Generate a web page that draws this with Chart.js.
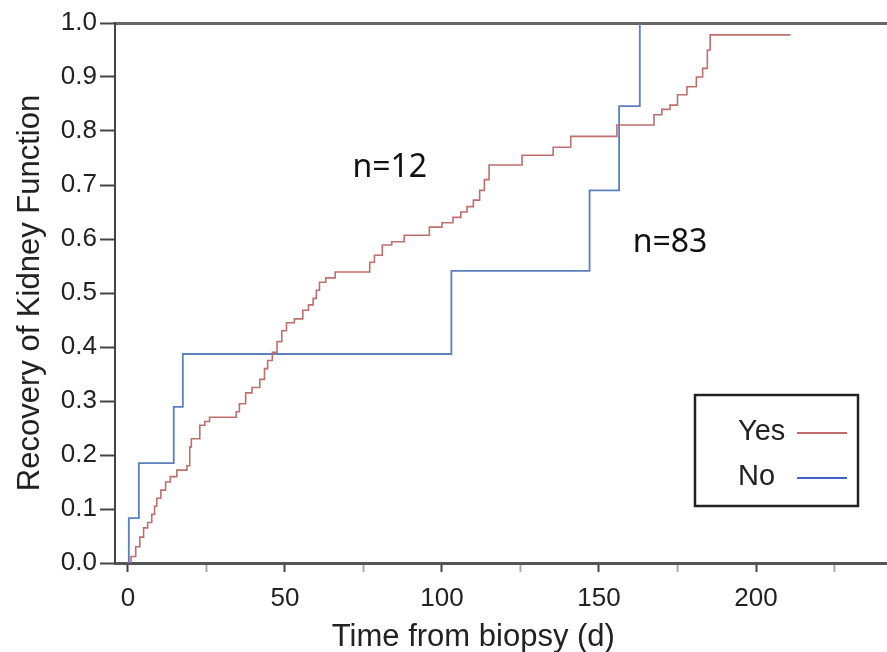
<!DOCTYPE html>
<html><head><meta charset="utf-8">
<script src="https://cdn.jsdelivr.net/npm/chart.js@4.4.0/dist/chart.umd.min.js"></script>
<style>html,body{margin:0;padding:0;background:#fff;}#wrap{width:887px;height:652px;position:relative;}</style>
</head><body><div id="wrap"><canvas id="c" width="887" height="652"></canvas></div>
<script>
// Data
const seriesLabels = ['Yes', 'No'];
const yesDays   = [0.6, 1, 2.5, 3.8, 5, 6.3, 7.6, 8.5, 9.2, 10.5, 12, 13.5, 15.6, 18.8, 19.7, 20.2, 22.9, 24.5, 26, 34.5, 35.5, 37.5, 39.5, 42, 43.5, 44.5, 46, 47.5, 49, 50.5, 53, 55.7, 57.5, 59, 60, 61, 63, 66, 77, 78.5, 81, 84, 88, 96, 100, 103.5, 106, 108, 110, 112, 113.5, 115, 125.5, 135.4, 141, 155.7, 167.5, 170, 172.6, 175, 178, 181, 183, 184.5, 185.4, 211];
const yesValues = [0, 0.012, 0.03, 0.048, 0.065, 0.075, 0.09, 0.105, 0.12, 0.135, 0.15, 0.16, 0.172, 0.18, 0.215, 0.23, 0.255, 0.262, 0.27, 0.28, 0.295, 0.315, 0.325, 0.34, 0.36, 0.375, 0.39, 0.41, 0.43, 0.445, 0.452, 0.468, 0.478, 0.49, 0.505, 0.52, 0.528, 0.539, 0.557, 0.57, 0.589, 0.595, 0.607, 0.622, 0.63, 0.64, 0.65, 0.66, 0.672, 0.69, 0.71, 0.737, 0.755, 0.77, 0.79, 0.811, 0.83, 0.84, 0.848, 0.867, 0.882, 0.9, 0.916, 0.95, 0.978, 0.978];
const noDays   = [0, 0.3, 3.5, 14.6, 17.5, 103, 147, 156.4, 163];
const noValues = [0, 0.083, 0.185, 0.289, 0.387, 0.541, 0.69, 0.846, 1.0];
const xMin = -4.1, xMax = 241.7, xStep = 25, xLabelEvery = 50;
const yMin = 0, yMax = 1, yStep = 0.1;
const xTitle = 'Time from biopsy (d)';
const yTitle = 'Recovery of Kidney Function';
const notes = [
  { text: 'n=12', x: 83.4, y: 0.731 },
  { text: 'n=83', x: 172.6, y: 0.593 }
];
const colors = ['#bf6f6e', '#5b80bf'];
const legendColors = ['#c06a6a', '#3f63c6'];

const toPts = (xs, ys) => xs.map((x, i) => ({ x: x, y: ys[i] }));

const decor = {
  id: 'decor',
  afterDraw(chart) {
    const ctx = chart.ctx, xs = chart.scales.x, ys = chart.scales.y, ca = chart.chartArea;
    ctx.save();
    // annotations
    ctx.fillStyle = '#111';
    ctx.font = '32px "Noto Sans"';
    ctx.textAlign = 'center';
    ctx.textBaseline = 'middle';
    notes.forEach(n => ctx.fillText(n.text, xs.getPixelForValue(n.x), ys.getPixelForValue(n.y)));
    // x-axis title (placed slightly left of the plot centre as in the reference)
    ctx.fillStyle = '#222';
    ctx.font = '31px "Liberation Sans"';
    ctx.textBaseline = 'alphabetic';
    ctx.fillText(xTitle, xs.getPixelForValue(breakAt(xs)), ca.bottom + 83);
    // legend
    const bx = ca.right - 192, by = ca.top + 372, bw = 163, bh = 111;
    ctx.fillStyle = '#fff';
    ctx.fillRect(bx, by, bw, bh);
    ctx.strokeStyle = '#222';
    ctx.lineWidth = 2.5;
    ctx.strokeRect(bx, by, bw, bh);
    ctx.font = '29px "Liberation Sans"';
    ctx.textAlign = 'left';
    ctx.textBaseline = 'middle';
    ctx.fillStyle = '#222';
    chart.data.datasets.forEach((d, i) => {
      const yy = by + 37 + i * 45;
      ctx.fillText(d.label, bx + 43, yy);
      ctx.strokeStyle = legendColors[i];
      ctx.lineWidth = 2;
      ctx.beginPath();
      ctx.moveTo(bx + 102, yy + 1);
      ctx.lineTo(bx + 152, yy + 1);
      ctx.stroke();
    });
    ctx.restore();
  }
};
// centre of the x title in data units (reference centres it near day 110)
function breakAt() { return 110; }

new Chart(document.getElementById('c'), {
  type: 'scatter',
  data: {
    datasets: [
      { label: seriesLabels[0], data: toPts(yesDays, yesValues), showLine: true, stepped: true, borderColor: colors[0], borderWidth: 1.6, pointRadius: 0, fill: false },
      { label: seriesLabels[1], data: toPts(noDays, noValues), showLine: true, stepped: true, borderColor: colors[1], borderWidth: 1.8, pointRadius: 0, fill: false }
    ]
  },
  options: {
    responsive: false,
    animation: false,
    devicePixelRatio: 1,
    layout: { padding: { top: 23, right: 0, left: 0, bottom: 0 } },
    plugins: { legend: { display: false }, tooltip: { enabled: false } },
    scales: {
      x: {
        type: 'linear', position: 'bottom', min: xMin, max: xMax,
        ticks: {
          stepSize: xStep, includeBounds: false,
          callback: v => (Math.abs(v % xLabelEvery) < 1e-9 ? String(v) : ''),
          font: { family: 'Liberation Sans', size: 26 }, color: '#222', padding: 11, maxRotation: 0, autoSkip: false
        },
        grid: {
          drawOnChartArea: false, tickLength: 9, tickWidth: 2,
          tickColor: c => (c.tick && Math.abs(c.tick.value % xLabelEvery) < 1e-9 ? '#444' : '#aaa')
        },
        border: { display: true, color: '#555', width: 3 },
        title: { display: false },
        afterFit: s => { s.height = 89; }
      },
      xTop: {
        type: 'linear', position: 'top', min: xMin, max: xMax,
        ticks: { display: false }, grid: { display: false },
        border: { display: true, color: '#666', width: 3 },
        afterFit: s => { s.height = 0; }
      },
      y: {
        min: yMin, max: yMax,
        ticks: {
          stepSize: yStep, callback: v => Number(v).toFixed(1),
          font: { family: 'Liberation Sans', size: 26 }, color: '#222', padding: 3
        },
        grid: { drawOnChartArea: false, tickLength: 15, tickWidth: 2, tickColor: '#444' },
        border: { display: true, color: '#444', width: 2 },
        title: { display: true, text: yTitle, font: { family: 'Liberation Sans', size: 31 }, color: '#222', padding: { top: 12, bottom: 0 } },
        afterFit: s => { s.width = 115; }
      }
    }
  },
  plugins: [decor]
});
</script>
</body></html>
